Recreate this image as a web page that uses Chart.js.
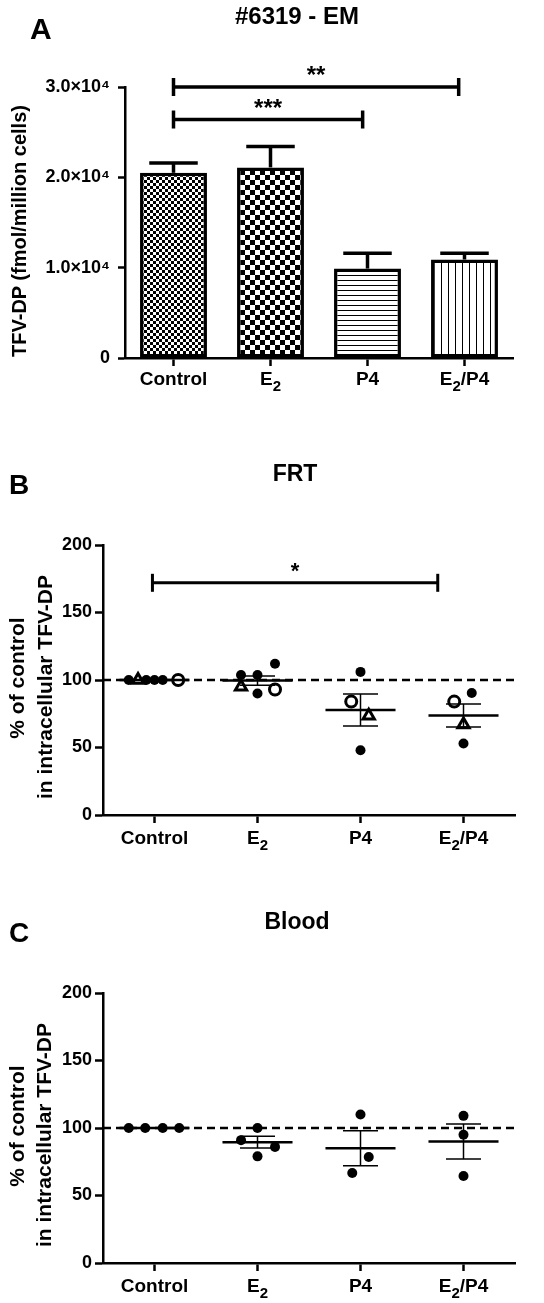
<!DOCTYPE html>
<html><head><meta charset="utf-8">
<script src="https://cdn.jsdelivr.net/npm/chart.js@4"></script>
<style>
html,body{margin:0;padding:0;background:#fff;}
body{width:544px;height:1303px;position:relative;overflow:hidden;font-family:"Liberation Sans",Arial,sans-serif;font-weight:bold;color:#000;}
canvas{position:absolute;left:0;}
.t{position:absolute;white-space:nowrap;line-height:1;}
.c{transform:translateX(-50%);}
.rot{position:absolute;white-space:nowrap;line-height:1;transform:translate(-50%,-50%) rotate(-90deg);}
</style></head><body>
<canvas id="chartA" width="544" height="400" style="top:0px"></canvas>
<canvas id="chartB" width="544" height="420" style="top:440px"></canvas>
<canvas id="chartC" width="544" height="413" style="top:890px"></canvas>

<div class="t" style="left:30px;top:14px;font-size:30px">A</div>
<div class="t c" style="left:297px;top:4px;font-size:24px">#6319 - EM</div>
<div class="rot" style="left:19px;top:231px;font-size:20px">TFV-DP (fmol/million cells)</div>

<div class="t" style="left:9px;top:471px;font-size:28px">B</div>
<div class="t c" style="left:295px;top:462px;font-size:23px">FRT</div>
<div class="rot" style="left:16px;top:678px;font-size:21px">% of control</div>
<div class="rot" style="left:44px;top:687px;font-size:21px">in intracellular TFV-DP</div>

<div class="t" style="left:9px;top:919px;font-size:28px">C</div>
<div class="t c" style="left:297px;top:910px;font-size:23px">Blood</div>
<div class="rot" style="left:16px;top:1126px;font-size:21px">% of control</div>
<div class="rot" style="left:43px;top:1135px;font-size:21px">in intracellular TFV-DP</div>

<script>
// ---------- data ----------
const categories = ['Control', 'E\u2082', 'P4', 'E\u2082/P4'];

// Panel A: TFV-DP (fmol/million cells), bar = mean, error = upper SEM
const emValues = [20500, 21100, 9900, 10900];
const emErrors = [1100, 2300, 1700, 700];
const emTicks = [0, 10000, 20000, 30000];
// significance brackets: [from category, to category, y value, label]
const emSig = [[0, 2.94, 30000, '**'], [0, 1.95, 26400, '***']];

// Panel B (FRT): [category, horizontal spread offset, % of control]
const frtFilled = [[0,-0.25,100],[0,-0.08,100],[0,0,100],[0,0.08,100],
                   [1,-0.16,103.7],[1,0,103.7],[1,0.17,112],[1,0,90],
                   [2,0,106],[2,0,48],
                   [3,0.08,90.4],[3,0,53]];
const frtTriangle = [[0,-0.16,100],[1,-0.16,95],[2,0.08,73.5],[3,0,67]];
const frtOpen = [[0,0.23,100],[1,0.17,93],[2,-0.09,84],[3,-0.09,84]];
const frtMean = [100, 99.6, 77.8, 73.7];
const frtSem = [0, 3.4, 11.8, 8.5];
const frtSig = [[-0.02, 2.75, 172, '*']];

// Panel C (Blood)
const bloodFilled = [[0,-0.25,100],[0,-0.09,100],[0,0.08,100],[0,0.24,100],
                     [1,-0.16,91],[1,0,100],[1,0.17,86],[1,0,79],
                     [2,0,110],[2,0.08,78.5],[2,-0.08,66.7],
                     [3,0,109],[3,0,95],[3,0,64.4]];
const bloodMean = [100, 89.5, 85, 90];
const bloodSem = [0, 4.3, 13, 13];

const pctTicks = [0, 50, 100, 150, 200];
const refLine = 100;

// ---------- helpers ----------
const FONT = '"Liberation Sans", Arial, sans-serif';
Chart.defaults.font.family = FONT;
Chart.defaults.color = '#000';
Chart.defaults.animation = false;

function pattern(type) {
  const c = document.createElement('canvas');
  const g = c.getContext('2d');
  if (type === 'fine' || type === 'coarse') {
    const s = type === 'fine' ? 3 : 5;
    c.width = c.height = 2 * s;
    g.fillStyle = '#fff'; g.fillRect(0, 0, 2*s, 2*s);
    g.fillStyle = '#000'; g.fillRect(0, 0, s, s); g.fillRect(s, s, s, s);
  } else if (type === 'hlines') {
    c.width = 10; c.height = 5;
    g.fillStyle = '#fff'; g.fillRect(0, 0, 10, 5);
    g.fillStyle = '#000'; g.fillRect(0, 0, 10, 1);
  } else {
    c.width = 7; c.height = 10;
    g.fillStyle = '#fff'; g.fillRect(0, 0, 7, 10);
    g.fillStyle = '#000'; g.fillRect(0, 0, 1, 10);
  }
  return g.createPattern(c, 'repeat');
}

function seg(ctx, x1, y1, x2, y2) { ctx.beginPath(); ctx.moveTo(x1, y1); ctx.lineTo(x2, y2); ctx.stroke(); }

const errorBarPlugin = {
  id: 'errorBars',
  afterDatasetsDraw(chart, args, o) {
    if (!o.values) return;
    const {ctx, scales: {x, y}} = chart;
    ctx.save(); ctx.strokeStyle = '#000'; ctx.lineWidth = 3.5; ctx.lineCap = 'butt';
    o.values.forEach((v, i) => {
      const cx = x.getPixelForValue(i);
      const half = x.getPixelForValue(i + o.cap) - cx;
      const yb = y.getPixelForValue(v), yt = y.getPixelForValue(v + o.errors[i]);
      seg(ctx, cx, yb, cx, yt);
      seg(ctx, cx - half, yt, cx + half, yt);
    });
    ctx.restore();
  }
};

const meanSemPlugin = {
  id: 'meanSem',
  afterDatasetsDraw(chart, args, o) {
    if (!o.means) return;
    const {ctx, scales: {x, y}} = chart;
    ctx.save(); ctx.strokeStyle = '#000';
    o.means.forEach((m, i) => {
      const cx = x.getPixelForValue(i);
      const hm = x.getPixelForValue(i + 0.34) - cx;
      const hc = x.getPixelForValue(i + 0.17) - cx;
      const ym = y.getPixelForValue(m);
      ctx.lineWidth = 2.5; seg(ctx, cx - hm, ym, cx + hm, ym);
      const s = o.sems[i];
      if (s > 0) {
        const yt = y.getPixelForValue(m + s), yb = y.getPixelForValue(m - s);
        ctx.lineWidth = 1.5;
        seg(ctx, cx, yt, cx, yb);
        seg(ctx, cx - hc, yt, cx + hc, yt);
        seg(ctx, cx - hc, yb, cx + hc, yb);
      }
    });
    ctx.restore();
  }
};

const bracketPlugin = {
  id: 'brackets',
  afterDraw(chart, args, o) {
    if (!o.items) return;
    const {ctx, scales: {x, y}} = chart;
    ctx.save(); ctx.strokeStyle = '#000'; ctx.fillStyle = '#000'; ctx.lineWidth = o.width;
    o.items.forEach(([a, b, v, label]) => {
      const x1 = x.getPixelForValue(a), x2 = x.getPixelForValue(b), yy = y.getPixelForValue(v);
      seg(ctx, x1, yy, x2, yy);
      seg(ctx, x1, yy - 9, x1, yy + 9);
      seg(ctx, x2, yy - 9, x2, yy + 9);
      ctx.font = 'bold ' + o.fontSize + 'px ' + FONT;
      ctx.textAlign = 'center'; ctx.textBaseline = 'alphabetic';
      ctx.fillText(label, (x1 + x2) / 2, yy + o.textOffset);
    });
    ctx.restore();
  }
};

// draws category labels with a true subscript "2" (E₂) under each x tick
const subLabelPlugin = {
  id: 'subLabels',
  afterDraw(chart, args, o) {
    if (!o.baseline) return;
    const {ctx} = chart;
    const sc = chart.scales.x;
    ctx.save(); ctx.fillStyle = '#000'; ctx.textBaseline = 'alphabetic'; ctx.textAlign = 'left';
    const main = 'bold 19px ' + FONT, sub = 'bold 15px ' + FONT;
    sc.ticks.forEach((t, i) => {
      const label = categories[Math.round(t.value)];
      const parts = label.split('\u2082');
      const runs = [];
      parts.forEach((p, k) => {
        if (p) runs.push([p, main, 0]);
        if (k < parts.length - 1) runs.push(['2', sub, 6]);
      });
      let total = 0;
      runs.forEach(r => { ctx.font = r[1]; r.push(ctx.measureText(r[0]).width); total += r[3]; });
      let xx = sc.getPixelForTick(i) - total / 2;
      const yy = sc.top + o.baseline;
      runs.forEach(r => { ctx.font = r[1]; ctx.fillText(r[0], xx, yy + r[2]); xx += r[3]; });
    });
    ctx.restore();
  }
};

function fitWidth(w) { return s => { s.width = w; }; }
function fitHeight(h) { return s => { s.height = h; }; }

// ---------- Panel A ----------
new Chart(document.getElementById('chartA'), {
  type: 'bar',
  data: {
    labels: categories,
    datasets: [{
      data: emValues,
      backgroundColor: [pattern('fine'), pattern('coarse'), pattern('hlines'), pattern('vlines')],
      borderColor: '#000', borderWidth: 3.5, borderSkipped: false,
      categoryPercentage: 1, barPercentage: 0.69
    }]
  },
  options: {
    responsive: false, events: [],
    layout: {padding: {left: 0, right: 31, top: 87, bottom: 8}},
    plugins: {
      legend: {display: false}, tooltip: {enabled: false},
      errorBars: {values: emValues, errors: emErrors, cap: 0.25},
      brackets: {items: emSig, width: 3.5, fontSize: 24, textOffset: -4},
      subLabels: {baseline: 27}
    },
    scales: {
      x: {
        afterFit: fitHeight(34),
        grid: {display: true, drawOnChartArea: false, drawTicks: true, tickLength: 8, tickWidth: 2.5, tickColor: '#000', offset: false},
        border: {display: true, color: '#000', width: 2.5},
        ticks: {display: false}
      },
      y: {
        min: 0, max: 30000,
        afterFit: fitWidth(125),
        afterBuildTicks: s => { s.ticks = emTicks.map(v => ({value: v})); },
        grid: {display: true, drawOnChartArea: false, drawTicks: true, tickLength: 7, tickWidth: 2.5, tickColor: '#000'},
        border: {display: true, color: '#000', width: 2.5},
        ticks: {font: {size: 18, weight: 'bold'}, color: '#000', padding: 8,
          callback: v => v === 0 ? '0' : (v / 10000).toFixed(1) + '\u00d710\u2074'}
      }
    }
  },
  plugins: [errorBarPlugin, bracketPlugin, subLabelPlugin]
});

// ---------- Panels B & C ----------
function pts(arr) { return arr.map(([c, off, v]) => ({x: c + off, y: v})); }

function dotChart(id, sets, means, sems, sig, padTop, padBottom) {
  const datasets = sets.map(s => Object.assign({
    data: pts(s.data), showLine: false, borderColor: '#000'
  }, s.style));
  datasets.push({
    type: 'line', data: [{x: -0.5, y: refLine}, {x: 3.5, y: refLine}],
    borderColor: '#000', borderWidth: 2.5, borderDash: [8, 5], pointRadius: 0, fill: false
  });
  new Chart(document.getElementById(id), {
    type: 'scatter',
    data: {datasets},
    options: {
      responsive: false, events: [],
      layout: {padding: {left: 0, right: 29, top: padTop, bottom: padBottom}},
      plugins: {
        legend: {display: false}, tooltip: {enabled: false},
        meanSem: {means, sems},
        brackets: sig ? {items: sig, width: 3, fontSize: 22, textOffset: -5} : {},
        subLabels: {baseline: 29}
      },
      scales: {
        x: {
          type: 'linear', min: -0.5, max: 3.5,
          afterFit: fitHeight(40),
          afterBuildTicks: s => { s.ticks = categories.map((c, i) => ({value: i})); },
          grid: {display: true, drawOnChartArea: false, drawTicks: true, tickLength: 8, tickWidth: 2.5, tickColor: '#000'},
          border: {display: true, color: '#000', width: 2.5},
          ticks: {display: false}
        },
        y: {
          min: 0, max: 200,
          afterFit: fitWidth(103),
          afterBuildTicks: s => { s.ticks = pctTicks.map(v => ({value: v})); },
          grid: {display: true, drawOnChartArea: false, drawTicks: true, tickLength: 8, tickWidth: 2.5, tickColor: '#000'},
          border: {display: true, color: '#000', width: 2.5},
          ticks: {font: {size: 18, weight: 'bold'}, color: '#000', padding: 3}
        }
      }
    },
    plugins: [meanSemPlugin, bracketPlugin, subLabelPlugin]
  });
}

const filledStyle = {pointStyle: 'circle', pointRadius: 5, backgroundColor: '#000', borderWidth: 0};
const openStyle = {pointStyle: 'circle', pointRadius: 5.5, backgroundColor: '#fff', borderWidth: 3};
const triStyle = {pointStyle: 'triangle', pointRadius: 6.5, backgroundColor: '#fff', borderWidth: 3};

dotChart('chartB', [
  {data: frtOpen, style: openStyle},
  {data: frtTriangle, style: triStyle},
  {data: frtFilled, style: filledStyle}
], frtMean, frtSem, frtSig, 105, 5);

dotChart('chartC', [
  {data: bloodFilled, style: filledStyle}
], bloodMean, bloodSem, null, 103, 0);
</script>
</body></html>
